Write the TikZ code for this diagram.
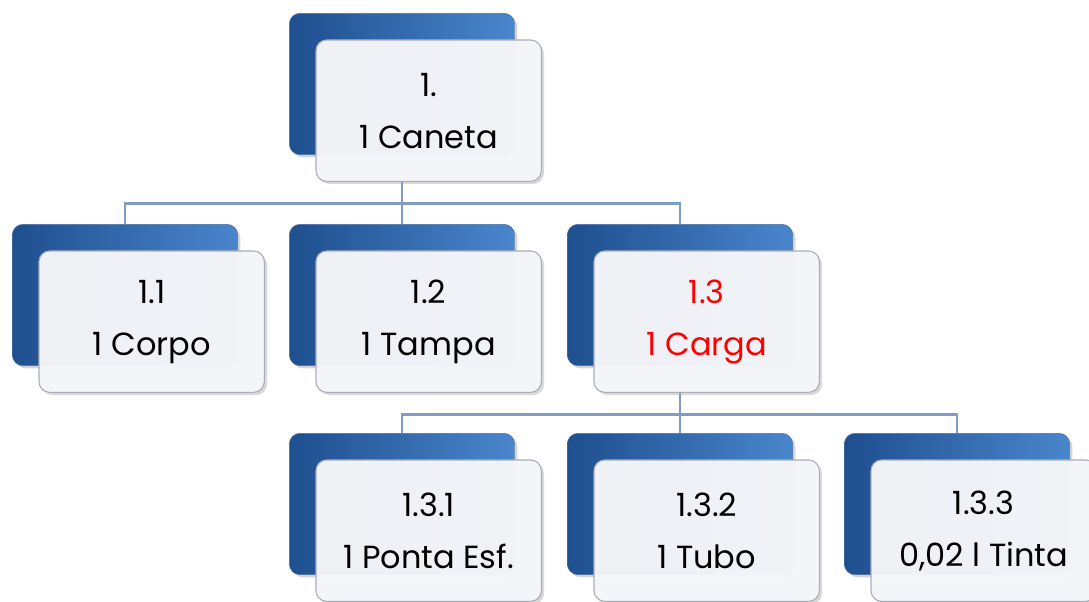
\documentclass[tikz,border=0pt]{standalone}
\usepackage{fontspec}
\setmainfont{Poppins}
\usepackage{tikz}
\usetikzlibrary{positioning, shadows}
\usepackage{xcolor}
\definecolor{backdark}{HTML}{1E4F8F}
\definecolor{backlight}{HTML}{4A86CC}
\definecolor{frontfill}{HTML}{F5F6F9}
\definecolor{frontline}{HTML}{A9ADB8}
\definecolor{linkcol}{HTML}{7F9CC6}

\begin{document}
\begin{tikzpicture}[x=0.75pt, y=-0.75pt]
    % Define styles
    \tikzstyle{back} = [rectangle, rounded corners=8pt, minimum width=169pt, minimum height=106pt, left color=backdark, right color=backlight, draw=backdark!80, drop shadow={shadow xshift=2pt, shadow yshift=-2pt, opacity=0.35}]
    \tikzstyle{front} = [rectangle, rounded corners=8pt, minimum width=169pt, minimum height=106pt, xshift=20pt, yshift=-20pt, fill=frontfill, fill opacity=0.97, text opacity=1, draw=frontline, line width=0.8pt, align=center, font=\fontsize{24}{39}\selectfont, drop shadow={shadow xshift=2pt, shadow yshift=-2pt, opacity=0.3}]
    \tikzstyle{link} = [draw=linkcol, line width=2.2pt]

    \useasboundingbox (0,0) rectangle (1089,602);

    % Nodes
    \node (back0) [back] at (402,84) {};
    \node (back1) [back] at (125,295) {};
    \node (back2) [back] at (402,295) {};
    \node (back3) [back] at (680,295) {};
    \node (back31) [back] at (402,504) {};
    \node (back32) [back] at (680,504) {};
    \node (back33) [back] at (957,504) {};

    \node (n0) [front] at (back0) {1.\\1 Caneta};
    \node (n1) [front] at (back1) {1.1\\1 Corpo};
    \node (n2) [front] at (back2) {1.2\\1 Tampa};
    \node (n3) [front, text=red] at (back3) {1.3\\1 Carga};
    \node (n31) [front] at (back31) {1.3.1\\1 Ponta Esf.};
    \node (n32) [front] at (back32) {1.3.2\\1 Tubo};
    \node (n33) [front] at (back33) {1.3.3\\0,02 l Tinta};

    % Arrows
    \draw [link] (back0.center |- n0.south) -- ++(0,22) -| (back1.north);
    \draw [link] (back0.center |- n0.south) -- (back2.north);
    \draw [link] (back0.center |- n0.south) -- ++(0,22) -| (back3.north);
    \draw [link] (back3.center |- n3.south) -- ++(0,22) -| (back31.north);
    \draw [link] (back3.center |- n3.south) -- (back32.north);
    \draw [link] (back3.center |- n3.south) -- ++(0,22) -| (back33.north);
\end{tikzpicture}
\end{document}
